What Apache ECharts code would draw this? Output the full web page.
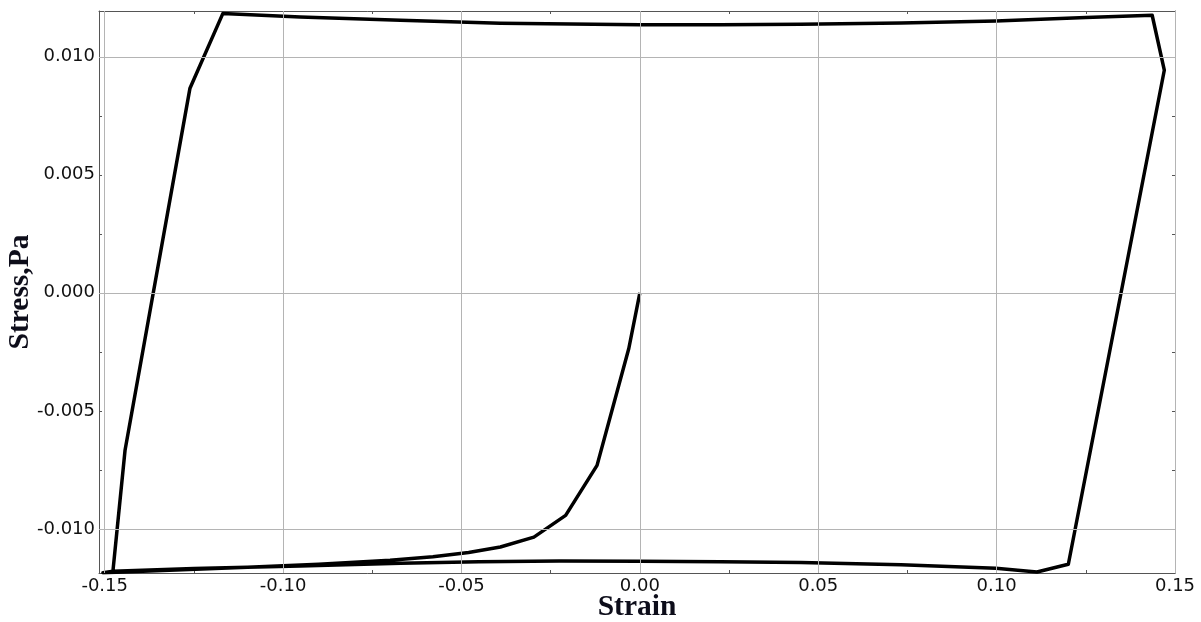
<!DOCTYPE html>
<html>
<head>
<meta charset="utf-8">
<script src="https://cdn.jsdelivr.net/npm/echarts@6/dist/echarts.min.js"></script>
<style>
html,body{margin:0;padding:0;background:#fff;}
#c{width:1201px;height:622px;}
</style>
</head>
<body>
<div id="c"></div>
<script>
// ---- data ----
const strain = [
  0, -0.0031, -0.0120, -0.0208, -0.0297, -0.0391, -0.048, -0.058, -0.070, -0.090, -0.110, -0.130, -0.1505,
  -0.1477, -0.1443, -0.1261, -0.1169,
  -0.0952, -0.0671, -0.0391, 0.0, 0.0226, 0.0451, 0.0732, 0.0998, 0.1250, 0.1436,
  0.1470, 0.1201, 0.1113,
  0.0998, 0.0732, 0.0451, 0.0226, 0.0, -0.0226, -0.0451, -0.0671, -0.0952, -0.125, -0.1477
];
const stress = [
  0, -0.00236, -0.00731, -0.00943, -0.01035, -0.01077, -0.0110, -0.01118, -0.01133, -0.01150, -0.01163, -0.01174, -0.01186,
  -0.0118, -0.00667, 0.00867, 0.01183,
  0.01169, 0.01155, 0.01142, 0.01136, 0.01136, 0.01138, 0.01143, 0.01152, 0.01166, 0.01176,
  0.00943, -0.0115, -0.01183,
  -0.01167, -0.01152, -0.01143, -0.01139, -0.01137, -0.01136, -0.01139, -0.01146, -0.01157, -0.01168, -0.0118
];
const xTicks = [-0.15, -0.10, -0.05, 0.00, 0.05, 0.10, 0.15];
const xMinorTicks = [-0.125, -0.075, -0.025, 0.025, 0.075, 0.125];
const yTicks = [-0.010, -0.005, 0.000, 0.005, 0.010];
const yMinorTicks = [-0.0075, -0.0025, 0.0025, 0.0075];
const xRange = [-0.1516, 0.15];
const yRange = [-0.01187, 0.01194];
const xTitle = 'Strain';
const yTitle = 'Stress,Pa';

const frame = '#555';
const gridColor = '#b4b4b4';
const labelFont = {fontFamily: 'DejaVu Sans', fontSize: 18, color: '#111'};
const titleFont = {fontFamily: 'Liberation Serif', fontWeight: 'bold', fontSize: 29.5, color: '#0d0d1a'};

function xAxisCfg(pos, showLabels) {
  return {
    type: 'value', position: pos, min: xRange[0], max: xRange[1],
    axisLine: {show: true, onZero: false, lineStyle: {color: frame, width: 1}},
    axisTick: {show: true, inside: true, length: 3, customValues: xTicks.concat(xMinorTicks), lineStyle: {color: frame}},
    axisLabel: {show: showLabels, customValues: xTicks, margin: 4, formatter: v => v.toFixed(2), ...labelFont},
    splitLine: {show: false},
    name: showLabels ? xTitle : '', nameLocation: 'middle', nameGap: 19, nameMoveOverlap: false, nameTextStyle: titleFont
  };
}
function yAxisCfg(pos, showLabels) {
  return {
    type: 'value', position: pos, min: yRange[0], max: yRange[1],
    axisLine: {show: true, onZero: false, lineStyle: {color: frame, width: 1}},
    axisTick: {show: true, inside: true, length: 3, customValues: yTicks.concat(yMinorTicks), lineStyle: {color: frame}},
    axisLabel: {show: showLabels, customValues: yTicks, margin: 4, formatter: v => v.toFixed(3), ...labelFont},
    splitLine: {show: false},
    name: showLabels ? yTitle : '', nameLocation: 'middle', nameGap: 64, nameMoveOverlap: false, nameRotate: 90, nameTextStyle: titleFont
  };
}

const gridLines = xTicks.map(v => ({xAxis: v})).concat(yTicks.map(v => ({yAxis: v})));

const chart = echarts.init(document.getElementById('c'), null, {renderer: 'canvas'});
chart.setOption({
  animation: false,
  backgroundColor: '#fff',
  grid: {left: 99, right: 26, top: 11, bottom: 49, containLabel: false, outerBoundsMode: 'none'},
  xAxis: [xAxisCfg('bottom', true), xAxisCfg('top', false)],
  yAxis: [yAxisCfg('left', true), yAxisCfg('right', false)],
  series: [
    {
      type: 'line', data: [], z: 1, silent: true,
      markLine: {
        silent: true, symbol: ['none', 'none'], label: {show: false},
        lineStyle: {color: gridColor, width: 1, type: 'solid'},
        emphasis: {disabled: true},
        animation: false,
        data: gridLines
      }
    },
    {
      type: 'line', z: 3,
      data: strain.map((x, i) => [x, stress[i]]),
      showSymbol: false, symbol: 'none', smooth: false,
      lineStyle: {color: '#000', width: 3.5, join: 'round'}
    }
  ]
});
</script>
</body>
</html>
